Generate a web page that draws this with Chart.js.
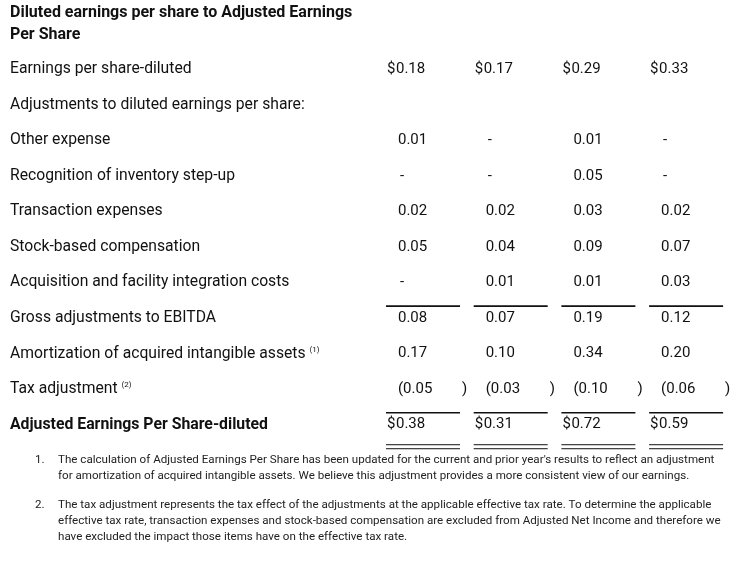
<!DOCTYPE html>
<html>
<head>
<meta charset="utf-8">
<script src="https://cdn.jsdelivr.net/npm/chart.js@4.4.1/dist/chart.umd.min.js"></script>
<style>
  html, body { margin: 0; padding: 0; background: #fff; }
  #wrap { width: 744px; height: 564px; }
</style>
</head>
<body>
<div id="wrap"><canvas id="epsTable" width="744" height="564"></canvas></div>
<script>
// rows of the reconciliation
var rowLabels = [
  'Earnings per share-diluted',
  'Adjustments to diluted earnings per share:',
  'Other expense',
  'Recognition of inventory step-up',
  'Transaction expenses',
  'Stock-based compensation',
  'Acquisition and facility integration costs',
  'Gross adjustments to EBITDA',
  'Amortization of acquired intangible assets',
  'Tax adjustment',
  'Adjusted Earnings Per Share-diluted'
];
var rowNotes = [null, null, null, null, null, null, null, null, '(1)', '(2)', null];

// one array per period column, null = empty cell, 0 = dash
var period1 = [0.18, null, 0.01, 0,    0.02, 0.05, 0,    0.08, 0.17, -0.05, 0.38];
var period2 = [0.17, null, 0,    0,    0.02, 0.04, 0.01, 0.07, 0.10, -0.03, 0.31];
var period3 = [0.29, null, 0.01, 0.05, 0.03, 0.09, 0.01, 0.19, 0.34, -0.10, 0.72];
var period4 = [0.33, null, 0,    0,    0.02, 0.07, 0.03, 0.12, 0.20, -0.06, 0.59];
var periods = [period1, period2, period3, period4];

var dollarRows = [0, 10];
var subtotalRows = [7, 10];   // single rule above
var totalRow = 10;            // bold label, double rule below

var titleLines = ['Diluted earnings per share to Adjusted Earnings', 'Per Share'];
var footnotes = [
  ['The calculation of Adjusted Earnings Per Share has been updated for the current and prior year\'s results to reflect an adjustment',
   'for amortization of acquired intangible assets. We believe this adjustment provides a more consistent view of our earnings.'],
  ['The tax adjustment represents the tax effect of the adjustments at the applicable effective tax rate. To determine the applicable',
   'effective tax rate, transaction expenses and stock-based compensation are excluded from Adjusted Net Income and therefore we',
   'have excluded the impact those items have on the effective tax rate.']
];

var FONT = 'Roboto, "Noto Sans", sans-serif';
var INK = '#111';
var TEXT_DY = 1.5; // optical nudge of text below row centre

var datasets = periods.map(function (vals, p) {
  var pts = [];
  vals.forEach(function (v, r) {
    if (v !== null) pts.push({ x: p, y: rowLabels[r], row: r, v: v });
  });
  return { label: 'col' + p, data: pts, pointRadius: 0, pointHoverRadius: 0, showLine: false };
});

var tablePlugin = {
  id: 'tablePlugin',
  afterDatasetsDraw: function (chart) {
    var ctx = chart.ctx;
    var xs = chart.scales.x, ys = chart.scales.y;
    ctx.save();
    ctx.fillStyle = INK;
    ctx.strokeStyle = INK;
    ctx.textBaseline = 'middle';
    ctx.textAlign = 'left';

    // title
    ctx.font = 'bold 16px ' + FONT;
    titleLines.forEach(function (t, i) { ctx.fillText(t, 10, 13 + i * 22); });

    // row labels
    rowLabels.forEach(function (lab, r) {
      var y = ys.getPixelForValue(r) + TEXT_DY;
      ctx.font = (r === totalRow ? 'bold 15.8px ' : '15.7px ') + FONT;
      ctx.fillText(lab, 10, y);
      if (rowNotes[r]) {
        var w = ctx.measureText(lab + ' ').width;
        ctx.font = '8px ' + FONT;
        ctx.fillText(rowNotes[r], 10 + w, y - 4);
      }
    });

    // cells
    chart.data.datasets.forEach(function (ds, d) {
      var meta = chart.getDatasetMeta(d);
      meta.data.forEach(function (el, j) {
        var v = ds.data[j].v, r = ds.data[j].row;
        var left = el.x, y = el.y + TEXT_DY;
        ctx.font = '15px ' + FONT;
        if (dollarRows.indexOf(r) >= 0) {
          ctx.fillText('$', left + 1, y);
          ctx.fillText(v.toFixed(2), left + 10, y);
        } else if (v === 0) {
          ctx.fillText('-', left + 14, y);
        } else if (v < 0) {
          ctx.fillText('(' + Math.abs(v).toFixed(2), left + 12, y);
          ctx.fillText(')', left + 76, y);
        } else {
          ctx.fillText(v.toFixed(2), left + 12, y);
        }
      });
    });

    // rules
    periods.forEach(function (vals, p) {
      var x0 = xs.getPixelForValue(p), x1 = x0 + 74;
      subtotalRows.forEach(function (r) {
        var y = ys.getPixelForValue(r) - 10.5;
        ctx.lineWidth = 1.6;
        ctx.beginPath(); ctx.moveTo(x0, y); ctx.lineTo(x1, y); ctx.stroke();
      });
      var yb = ys.getPixelForValue(totalRow);
      ctx.lineWidth = 1;
      [21.5, 25.5].forEach(function (o) {
        ctx.beginPath(); ctx.moveTo(x0, yb + o); ctx.lineTo(x1, yb + o); ctx.stroke();
      });
    });

    // footnotes
    ctx.font = '11.6px ' + FONT;
    ctx.fillStyle = '#222';
    var fy = [[460, 476], [505, 521, 537]];
    footnotes.forEach(function (lines, n) {
      ctx.fillText((n + 1) + '.', 35, fy[n][0]);
      lines.forEach(function (t, k) { ctx.fillText(t, 58, fy[n][k]); });
    });
    ctx.restore();
  }
};

new Chart(document.getElementById('epsTable').getContext('2d'), {
  type: 'scatter',
  data: { datasets: datasets },
  options: {
    responsive: false,
    animation: false,
    events: [],
    layout: { padding: { left: 10, right: 10, top: 50, bottom: 123 } },
    plugins: {
      legend: { display: false },
      tooltip: { enabled: false }
    },
    scales: {
      x: { type: 'linear', min: -4.287, max: 3.968, display: false },
      y: { type: 'category', labels: rowLabels, offset: true, display: false }
    }
  },
  plugins: [tablePlugin]
});
</script>
</body>
</html>
